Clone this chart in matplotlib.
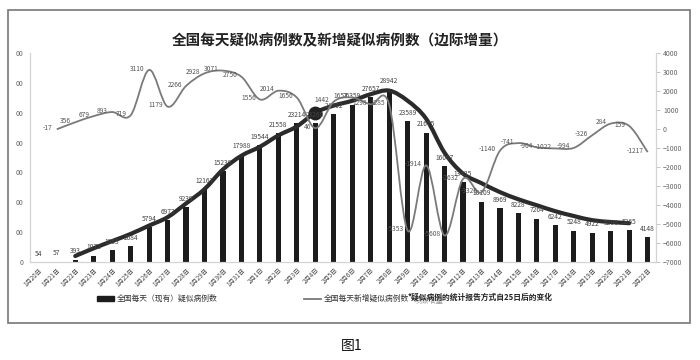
import numpy as np
import matplotlib
matplotlib.use('Agg')
import matplotlib.pyplot as plt
from matplotlib.path import Path
from matplotlib.patches import PathPatch, Rectangle
from matplotlib.lines import Line2D

plt.rcParams['font.family'] = ['Noto Sans CJK SC', 'DejaVu Sans']

# Dates 1月20日 -> 2月22日
dates = ['1月%d日' % d for d in range(20, 32)] + ['2月%d日' % d for d in range(1, 23)]

# 全国每天（现有）疑似病例数
suspected = [54, 57, 393, 1072, 1965, 2684, 5794, 6973, 9239, 12167, 15238, 17988,
             19544, 21558, 23214, 23260, 24702, 26359, 27657, 28942, 23589, 21675,
             16067, 13435, 10109, 8969, 8228, 7264, 6242, 5248, 4922, 5206, 5365, 4148]

# 全国每天新增疑似病例数（边际增量）, from 1月21日
new_idx = list(range(1, 34))
new_suspected = [-17, 356, 679, 893, 719, 3110, 1179, 2266, 2928, 3071, 2750, 1556,
                 2014, 1656, 46, 1442, 1657, 1298, 1285, -5353, -1914, -5608, -2632,
                 -3326, -1140, -741, -964, -1022, -994, -326, 284, 159, -1217]

# thick trend line, 1月22日 -> 2月21日
trend_idx = list(range(2, 33))
trend = [1000, 2300, 3500, 4700, 6100, 7500, 9800, 12200, 15500, 17800, 19300, 21200,
         22700, 25000, 26200, 27000, 28100, 28700, 27000, 24000, 18300, 14800, 13200,
         11700, 10500, 9500, 8500, 7700, 7000, 6700, 6500]


def smooth_path(xs, ys):
    # excel style smoothed line, drawn as bezier segments
    xs = np.asarray(xs, float)
    ys = np.asarray(ys, float)
    verts = [(xs[0], ys[0])]
    codes = [Path.MOVETO]
    n = len(xs)
    for i in range(n - 1):
        i0 = max(i - 1, 0)
        i3 = min(i + 2, n - 1)
        c1 = (xs[i] + (xs[i + 1] - xs[i0]) / 6, ys[i] + (ys[i + 1] - ys[i0]) / 6)
        c2 = (xs[i + 1] - (xs[i3] - xs[i]) / 6, ys[i + 1] - (ys[i3] - ys[i]) / 6)
        verts += [c1, c2, (xs[i + 1], ys[i + 1])]
        codes += [Path.CURVE4] * 3
    return Path(verts, codes)


fig = plt.figure(figsize=(7, 3.6), dpi=100)
ax = fig.add_axes([30 / 700, 1 - 262 / 360, 626 / 700, 209 / 360])
ax2 = ax.twinx()

x = np.arange(len(dates))
bar_color = '#1c1c1c'
ax.bar(x, suspected, width=0.28, color=bar_color, zorder=2)
for xi, v in zip(x, suspected):
    ax.annotate(str(v), (xi, v), xytext=(0, 3), textcoords='offset points',
                ha='center', va='bottom', fontsize=4.8, color='#444444', zorder=5)

ax.add_patch(PathPatch(smooth_path(trend_idx, trend), facecolor='none',
                       edgecolor='#2b2b2b', lw=3.0, zorder=4, capstyle='round'))
ax.plot([trend_idx[13]], [trend[13]], 'o', ms=9, color='#222222', zorder=4)

ax2.add_patch(PathPatch(smooth_path(new_idx, new_suspected), facecolor='none',
                        edgecolor='#7a7a7a', lw=1.3, zorder=3))
for xi, v in zip(new_idx, new_suspected):
    ax2.annotate(str(v), (xi, v), xytext=(-3, 1), textcoords='offset points',
                 ha='right', va='center', fontsize=4.8, color='#555555', zorder=5)

ax.set_xlim(-0.45, 33.45)
ax.set_ylim(0, 35000)
ax2.set_ylim(-7000, 4000)

ax.set_xticks(x)
ax.set_xticklabels(dates, rotation=45, ha='right', rotation_mode='anchor',
                   fontsize=4.5, color='#444444')
ax.tick_params(axis='x', length=0, pad=3)

ax.set_yticks(np.arange(0, 35001, 5000))
ax.set_yticklabels(['0'] + ['00'] * 7, fontsize=5, color='#666666')
ax.tick_params(axis='y', length=0, pad=5)

ax2.set_yticks(np.arange(-7000, 4001, 1000))
ax2.tick_params(axis='y', labelsize=5, colors='#666666', length=3, width=0.6, pad=2,
                color='#bbbbbb')

for a in (ax, ax2):
    a.spines['top'].set_visible(False)
    for s in ('left', 'right', 'bottom'):
        a.spines[s].set_color('#d4d4d4')
        a.spines[s].set_linewidth(0.8)

fig.text(340 / 700, 1 - 40 / 360, '全国每天疑似病例数及新增疑似病例数（边际增量）',
         ha='center', va='center', fontsize=10.5, fontweight='bold', color='#222222')

handles = [Rectangle((0, 0), 1, 1, color=bar_color),
           Line2D([], [], color='#7a7a7a', lw=1.3)]
fig.legend(handles, ['全国每天（现有）疑似病例数', '全国每天新增疑似病例数'],
           loc='center left', bbox_to_anchor=(90 / 700, 1 - 299 / 360), ncol=2,
           frameon=False, fontsize=5.6, handlelength=2.2, handleheight=0.6,
           columnspacing=11.0, handletextpad=0.4, labelcolor='#333333')

fig.text(414 / 700, 1 - 301 / 360, '项似增量', fontsize=5.4, color='#999999',
         ha='left', va='center')
fig.text(408 / 700, 1 - 297 / 360, '*疑似病例的统计报告方式自25日后的变化',
         fontsize=5.6, color='#222222', ha='left', va='center', fontweight='bold')

fig.patches.append(Rectangle((8 / 700, 1 - 323 / 360), 682 / 700, 313 / 360,
                             transform=fig.transFigure, fill=False,
                             edgecolor='#777777', lw=1.2))

fig.text(352 / 700, 1 - 346 / 360, '图1', ha='center', va='center', fontsize=10,
         color='#111111')

fig.savefig('out.png', dpi=100)
